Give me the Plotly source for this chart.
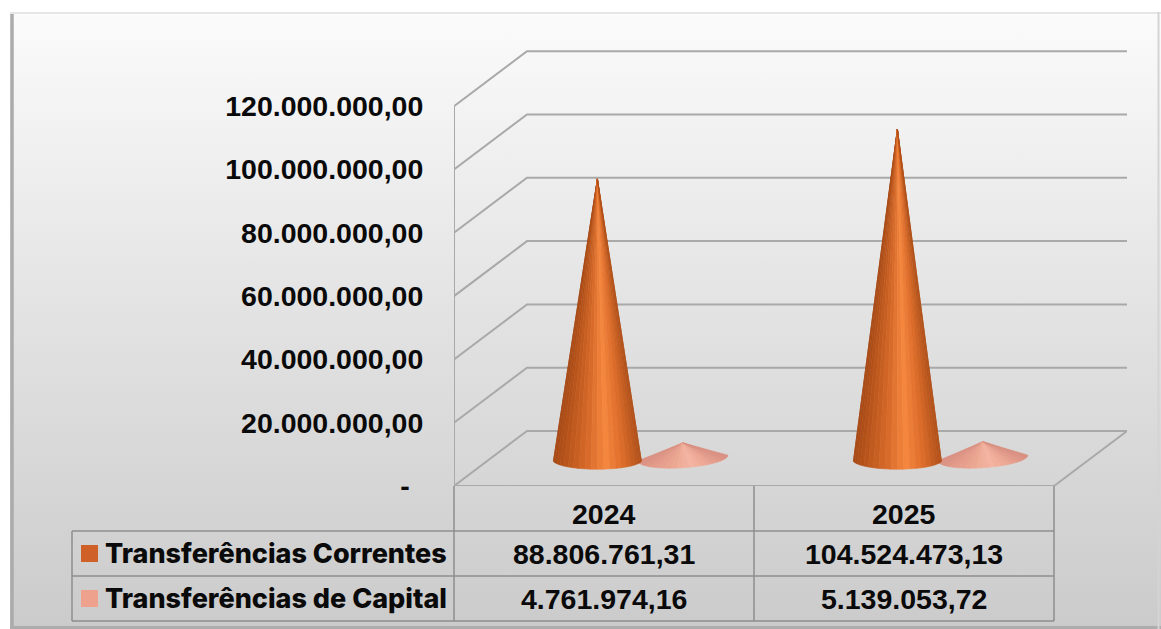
import math
import plotly.graph_objects as go

W, H = 1161, 629

categories = ["2024", "2025"]
series_names = ["Transferências Correntes", "Transferências de Capital"]
correntes = [88806761.31, 104524473.13]
capital = [4761974.16, 5139053.72]
y_ticks = [0, 20e6, 40e6, 60e6, 80e6, 100e6, 120e6]
y_tick_labels = ["-\u00a0\u2009", "20.000.000,00", "40.000.000,00", "60.000.000,00",
                 "80.000.000,00", "100.000.000,00", "120.000.000,00"]

# axis scale of the plot box
X_MAX = 673 / 300
Y_MAX = 436 / 3.165 * 1e6
DEPTH_X = 73 / 300
DEPTH_Y = 55 / 3.165 * 1e6

cone_offset = [0.478, 0.763]
cone_floor = [8.2e6, 8.85e6]
cone_rx = [0.148, 0.150]
cone_ry = [2.9e6, 3.1e6]
cone_tilt = [0, 0.9e6]
shade_dark = [
    ["#a64815", "#c05a1e", "#d96c2a", "#f5873f", "#dc6c29", "#b0501a"],
    ["#d98f80", "#e59c8b", "#eca792", "#f4b5a2", "#eba592", "#d98f80"],
]
key_colors = ["#cf6028", "#eea18c"]

GRID = "#a9a9a9"
TABLE = "#8e8e8e"
NUM_FONT = dict(family="Liberation Sans", size=28.5, color="#0a0a0a", weight=700)
LAB_FONT = dict(family="Inter", size=27, color="#0a0a0a", weight=800)


def px(v):
    return v / W


def py(v):
    return 1 - v / H


def fmt(v):
    return f"{v:,.2f}".replace(",", "#").replace(".", ",").replace("#", ".")


def mix(stops, t):
    p = t * (len(stops) - 1)
    i = min(int(p), len(stops) - 2)
    f = p - i
    a = [int(stops[i][k:k + 2], 16) for k in (1, 3, 5)]
    b = [int(stops[i + 1][k:k + 2], 16) for k in (1, 3, 5)]
    c = [round(a[k] + (b[k] - a[k]) * f) for k in range(3)]
    return f"rgb({c[0]},{c[1]},{c[2]})"


fig = go.Figure()

# page background on the full-page axes
fig.add_trace(go.Scatter(
    x=[10, W, W, 10, 10], y=[12, 12, H, H, 12], xaxis="x", yaxis="y",
    mode="lines", line=dict(width=0), fill="toself", hoverinfo="skip", showlegend=False,
    fillgradient=dict(type="vertical", colorscale=[[0, "#cbcbcb"], [0.5, "#e2e2e2"], [1, "#fbfbfb"]]),
))


def line(xs, ys, color=GRID, width=2):
    fig.add_trace(go.Scatter(x=xs, y=ys, xaxis="x2", yaxis="y2", mode="lines",
                             line=dict(color=color, width=width), cliponaxis=False,
                             hoverinfo="skip", showlegend=False))


# walls and floor
for v in y_ticks:
    line([0, DEPTH_X, 2 + DEPTH_X], [v, v + DEPTH_Y, v + DEPTH_Y])
line([0, 0], [0, y_ticks[-1]])
line([0, 2, 2 + DEPTH_X], [0, 0, DEPTH_Y])


def cone(cat, s, value):
    n = 22
    cx = cat + cone_offset[s]
    base = cone_floor[s]
    for i in range(n):
        t0 = math.pi + math.pi * i / n
        t1 = math.pi + math.pi * (i + 1) / n
        xs = [cx, cx + cone_rx[s] * math.cos(t0), cx + cone_rx[s] * math.cos(t1), cx]
        ys = [base + value,
              base + cone_ry[s] * math.sin(t0) + cone_tilt[s] * math.cos(t0),
              base + cone_ry[s] * math.sin(t1) + cone_tilt[s] * math.cos(t1),
              base + value]
        col = mix(shade_dark[s], (1 - math.cos((t0 + t1) / 2 - math.pi)) / 2)
        fig.add_trace(go.Scatter(x=xs, y=ys, xaxis="x2", yaxis="y2", mode="lines",
                                 fill="toself", fillcolor=col, line=dict(color=col, width=0.6),
                                 hoverinfo="skip", showlegend=False))


for c, name in enumerate(categories):
    cone(c, 1, capital[c])
    cone(c, 0, correntes[c])

shapes = []


def seg(x0, y0, x1, y1, color=TABLE, width=1.5):
    shapes.append(dict(type="line", xref="paper", yref="paper", x0=px(x0), y0=py(y0),
                       x1=px(x1), y1=py(y1), line=dict(color=color, width=width)))


# table rules
for x in (454, 754, 1054):
    seg(x, 486, x, 621)
seg(72, 531, 72, 621)
for y in (531, 576, 621):
    seg(72, y, 1054, y)

# outer frame
seg(12, 12, 12, H, "#ababab", 3.5)
seg(10, 13, W, 13, "#e6e6e6", 2)
seg(10, 627.5, W, 627.5, "#adadad", 3)
seg(1158.5, 12, 1158.5, H, "#d4d4d4", 2)

# legend keys
for k, (y0, y1) in enumerate(((545, 562), (590, 607))):
    shapes.append(dict(type="rect", xref="paper", yref="paper", x0=px(81), x1=px(98),
                       y0=py(y0), y1=py(y1), fillcolor=key_colors[k], line=dict(width=0)))

ann = []


def text(x, y, s, font, anchor="center"):
    ann.append(dict(xref="paper", yref="paper", x=px(x), y=py(y), text=s, showarrow=False,
                    font=font, xanchor=anchor, yanchor="middle"))


for c, name in enumerate(categories):
    xc = 604 + 300 * c
    text(xc, 514, f"{name}", NUM_FONT)
    text(xc, 553.5, fmt(correntes[c]), NUM_FONT)
    text(xc, 598.5, fmt(capital[c]), NUM_FONT)
text(103, 553, series_names[0], LAB_FONT, "left")
text(103, 598, series_names[1], LAB_FONT, "left")

fig.update_layout(
    template="none",
    width=W, height=H, margin=dict(l=0, r=0, t=0, b=0, pad=0),
    paper_bgcolor="#ffffff", plot_bgcolor="rgba(0,0,0,0)", showlegend=False,
    shapes=shapes, annotations=ann,
    xaxis=dict(domain=[0, 1], range=[0, W], visible=False, fixedrange=True, automargin=False),
    yaxis=dict(domain=[0, 1], range=[H, 0], visible=False, fixedrange=True, automargin=False),
    xaxis2=dict(domain=[px(454), px(1127)], range=[0, X_MAX], anchor="y2", visible=False, fixedrange=True,
                automargin=False),
    yaxis2=dict(domain=[py(486), py(50)], range=[0, Y_MAX], anchor="x2", showgrid=False, zeroline=False,
                showline=False, tickmode="array", tickvals=y_ticks, ticktext=y_tick_labels, automargin=False,
                ticks="outside", ticklen=24, tickcolor="rgba(0,0,0,0)", tickfont=NUM_FONT, fixedrange=True),
)

fig.write_html("out.html", config=dict(displayModeBar=False),
               post_script="document.body.style.margin='0';document.documentElement.style.overflow='hidden';")
